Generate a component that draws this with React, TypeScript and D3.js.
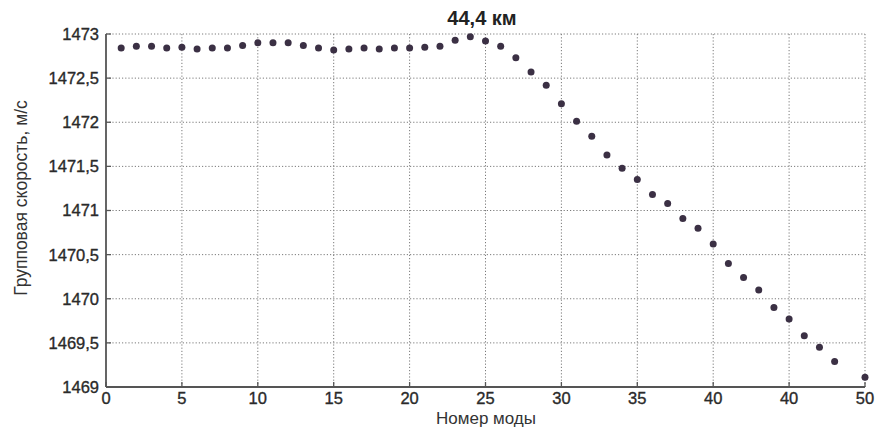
import React from "react";
import * as d3 from "d3";

const modes: number[] = [
  1, 2, 3, 4, 5, 6, 7, 8, 9, 10, 11, 12, 13, 14, 15, 16, 17, 18, 19, 20, 21, 22, 23, 24, 25,
  26, 27, 28, 29, 30, 31, 32, 33, 34, 35, 36, 37, 38, 39, 40, 41, 42, 43, 44, 45, 46, 47, 48, 50,
];
const velocity: number[] = [
  1472.84, 1472.86, 1472.86, 1472.84, 1472.85, 1472.83, 1472.84, 1472.84, 1472.87, 1472.9,
  1472.9, 1472.9, 1472.87, 1472.84, 1472.82, 1472.83, 1472.84, 1472.83, 1472.84, 1472.84,
  1472.85, 1472.86, 1472.93, 1472.97, 1472.92, 1472.86, 1472.73, 1472.57, 1472.42, 1472.21,
  1472.01, 1471.84, 1471.63, 1471.48, 1471.35, 1471.18, 1471.08, 1470.91, 1470.8, 1470.62,
  1470.4, 1470.24, 1470.1, 1469.9, 1469.77, 1469.58, 1469.45, 1469.29, 1469.11,
];
const xTicks: number[] = [0, 5, 10, 15, 20, 25, 30, 35, 40, 45, 50];
const xTickLabels: string[] = ["0", "5", "10", "15", "20", "25", "30", "35", "40", "40", "50"];
const yTicks: number[] = [1469, 1469.5, 1470, 1470.5, 1471, 1471.5, 1472, 1472.5, 1473];
const yTickLabels: string[] = ["1469", "1469,5", "1470", "1470,5", "1471", "1471,5", "1472", "1472,5", "1473"];
const title = "44,4 км";
const xLabel = "Номер моды";
const yLabel = "Групповая скорость, м/с";

const W = 888;
const H = 431;
const left = 106;
const right = 865;
const top = 34;
const bottom = 387;

export default function App() {
  const x = d3.scaleLinear().domain([0, 50]).range([left, right]);
  const y = d3.scaleLinear().domain([1469, 1473]).range([bottom, top]);
  const font = "'Liberation Sans', Arial, sans-serif";
  return (
    <div style={{ position: "fixed", left: 0, top: 0 }}>
      <svg width={W} height={H} style={{ display: "block", background: "#fff" }}>
        <rect x={0} y={0} width={W} height={H} fill="#fff" />
        {/* grid */}
        {xTicks.filter((t) => t > 0).map((t) => (
          <line key={"gx" + t} x1={x(t)} x2={x(t)} y1={top} y2={bottom}
            stroke="#7a7a7a" strokeWidth={1} strokeDasharray="1.2,2" />
        ))}
        {yTicks.filter((t) => t > 1469).map((t) => (
          <line key={"gy" + t} x1={left} x2={right} y1={y(t)} y2={y(t)}
            stroke="#7a7a7a" strokeWidth={1} strokeDasharray="1.2,2" />
        ))}
        {/* axes */}
        <line x1={left} x2={left} y1={top} y2={bottom} stroke="#555" strokeWidth={1.8} />
        <line x1={left} x2={right} y1={bottom} y2={bottom} stroke="#555" strokeWidth={1.8} />
        {xTicks.map((t) => (
          <line key={"tx" + t} x1={x(t)} x2={x(t)} y1={bottom} y2={bottom - 5} stroke="#555" strokeWidth={1.3} />
        ))}
        {yTicks.map((t) => (
          <line key={"ty" + t} x1={left} x2={left + 5} y1={y(t)} y2={y(t)} stroke="#555" strokeWidth={1.3} />
        ))}
        {/* tick labels */}
        {xTicks.map((t, i) => (
          <text key={"lx" + t} x={x(t)} y={404} textAnchor="middle" fontFamily={font}
            fontSize={16.5} fill="#2a2a2a" stroke="#2a2a2a" strokeWidth={0.35}>{xTickLabels[i]}</text>
        ))}
        {yTicks.map((t, i) => (
          <text key={"ly" + t} x={99} y={y(t)} dy="0.36em" textAnchor="end" fontFamily={font}
            fontSize={16.5} fill="#2a2a2a" stroke="#2a2a2a" strokeWidth={0.35}>{yTickLabels[i]}</text>
        ))}
        {/* points */}
        {modes.map((m, i) => (
          <circle key={"p" + m} cx={x(m)} cy={y(velocity[i])} r={3.5} fill="#3b3044" />
        ))}
        {/* labels */}
        <text x={482} y={25} textAnchor="middle" fontFamily={font} fontSize={20}
          fill="#222" fontWeight="bold">{title}</text>
        <text x={486} y={424} textAnchor="middle" fontFamily={font} fontSize={17}
          fill="#333">{xLabel}</text>
        <text transform={`translate(27,${198}) rotate(-90)`} textAnchor="middle"
          fontFamily={font} fontSize={17.5} fill="#333">{yLabel}</text>
      </svg>
    </div>
  );
}
